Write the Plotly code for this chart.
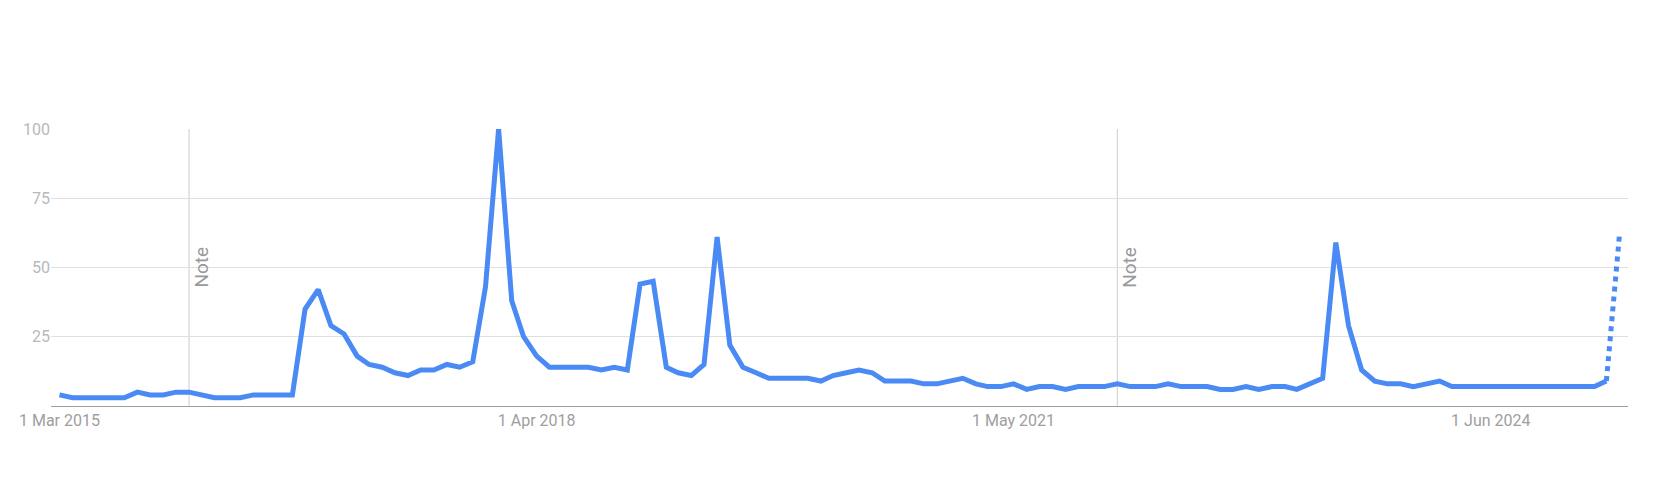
import pandas as pd
import plotly.graph_objects as go

# monthly search interest, Mar 2015 .. Apr 2025 (last month is partial)
FIRST_MONTH = "2015-03-01"
interest = [
    4, 3, 3, 3, 3, 3, 5, 4, 4, 5,
    5, 4, 3, 3, 3, 4, 4, 4, 4, 35,
    42, 29, 26, 18, 15, 14, 12, 11, 13, 13,
    15, 14, 16, 43, 100, 38, 25, 18, 14, 14,
    14, 14, 13, 14, 13, 44, 45, 14, 12, 11,
    15, 61, 22, 14, 12, 10, 10, 10, 10, 9,
    11, 12, 13, 12, 9, 9, 9, 8, 8, 9,
    10, 8, 7, 7, 8, 6, 7, 7, 6, 7,
    7, 7, 8, 7, 7, 7, 8, 7, 7, 7,
    6, 6, 7, 6, 7, 7, 6, 8, 10, 59,
    29, 13, 9, 8, 8, 7, 8, 9, 7, 7,
    7, 7, 7, 7, 7, 7, 7, 7, 7, 7,
    9, 62,
]
months = pd.date_range(FIRST_MONTH, periods=len(interest), freq="MS")

tick_dates = ["2015-03-01", "2018-04-01", "2021-05-01", "2024-06-01"]
tick_labels = ["1 Mar 2015", "1 Apr 2018", "1 May 2021", "1 Jun 2024"]
y_ticks = [25, 50, 75, 100]
note_dates = ["2016-01-01", "2022-01-01"]

BLUE = "#4a8af4"

fig = go.Figure()
fig.add_trace(go.Scatter(
    x=months[:-1], y=interest[:-1], mode="lines",
    line=dict(color=BLUE, width=5), hoverinfo="skip", showlegend=False,
))
fig.add_trace(go.Scatter(
    x=months[-2:], y=interest[-2:], mode="lines",
    line=dict(color=BLUE, width=5, dash="dot"), hoverinfo="skip", showlegend=False,
))

for d in note_dates:
    fig.add_shape(type="line", x0=d, x1=d, y0=0, y1=100, xref="x", yref="y",
                  line=dict(color="#cccccc", width=1), layer="below")
    fig.add_annotation(x=d, y=50, text="Note", textangle=-90, showarrow=False,
                       xshift=12, font=dict(size=19, color="#999999"))

fig.update_layout(
    width=1653,
    height=478,
    margin=dict(l=51, r=25, t=129, b=72),
    paper_bgcolor="white",
    plot_bgcolor="white",
    font=dict(family="Roboto, Arial, sans-serif"),
    xaxis=dict(
        range=["2015-02-09", "2025-04-21"],
        tickvals=tick_dates,
        ticktext=tick_labels,
        tickfont=dict(size=16, color="#9e9e9e"),
        showgrid=False,
        showline=True,
        linecolor="#9e9e9e",
        linewidth=1,
        zeroline=False,
        ticks="",
    ),
    yaxis=dict(
        range=[0, 100],
        tickvals=y_ticks,
        tickfont=dict(size=16, color="#b5b9bf"),
        showgrid=True,
        gridcolor="#e0e0e0",
        gridwidth=1,
        zeroline=False,
        showline=False,
        ticks="",
    ),
)

fig.write_html("out.html", config={"displayModeBar": False},
               post_script="document.body.style.margin='0';")
